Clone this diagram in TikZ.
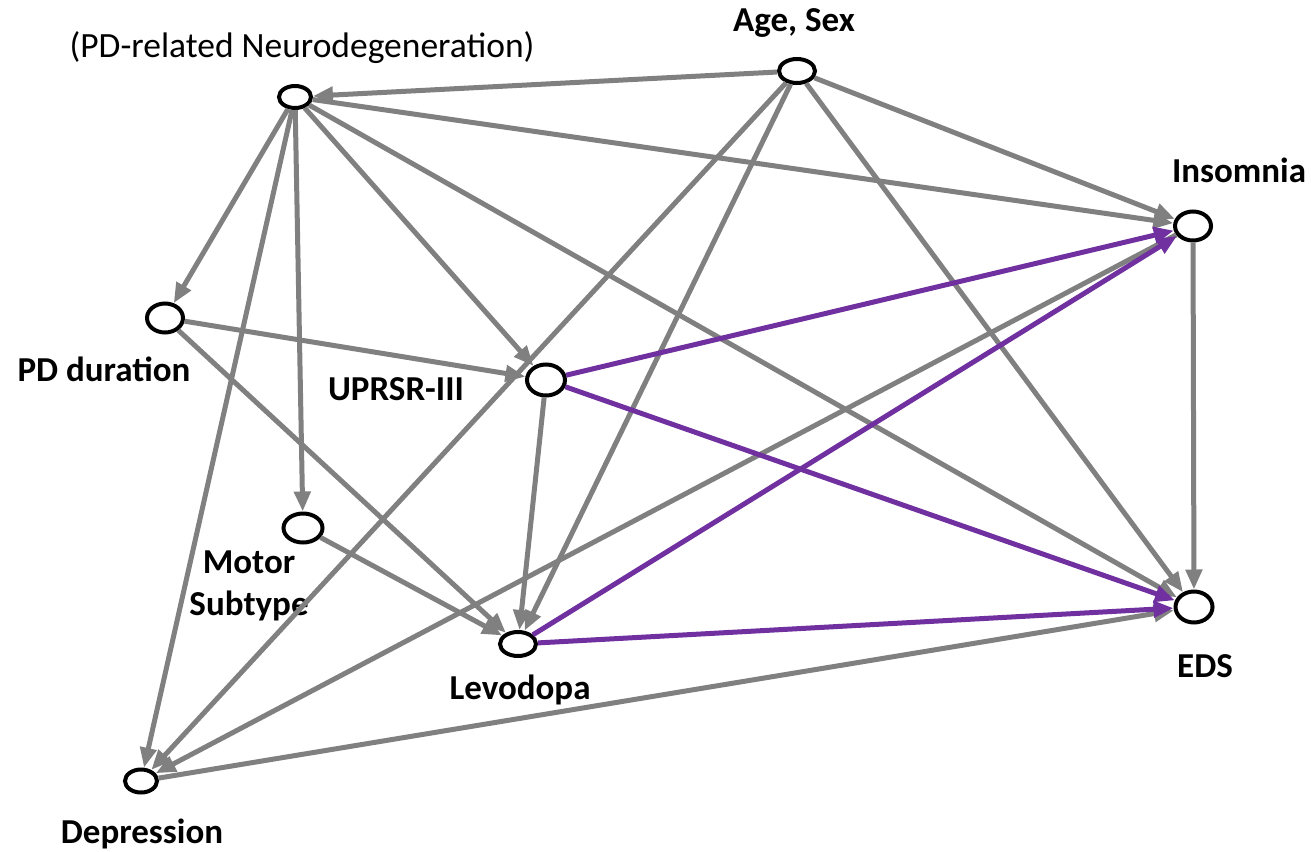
\documentclass[tikz,border=0pt]{standalone}
\usepackage{fontspec}
\setmainfont{Carlito}
\usetikzlibrary{shapes.geometric,arrows.meta}
\definecolor{edgegray}{RGB}{128,128,128}
\definecolor{edgepurple}{RGB}{112,48,160}
\begin{document}
\begin{tikzpicture}[x=1pt,y=-1pt,
  var/.style={draw=black,line width=4pt,ellipse,inner sep=0pt},
  lbl/.style={font=\fontsize{35}{40}\selectfont\bfseries,anchor=base,inner sep=0pt},
  ge/.style={draw=edgegray,line width=5pt,-{Triangle[length=20pt,width=16pt]}},
  pe/.style={draw=edgepurple,line width=5pt,-{Triangle[length=20pt,width=16pt]}}]
\useasboundingbox (0,0) rectangle (1311,851);
% variables
\node[var,minimum width=32pt,minimum height=22pt] (N) at (295,97) {};
\node[var,minimum width=36pt,minimum height=24pt] (A) at (797,71) {};
\node[var,minimum width=36pt,minimum height=29pt] (I) at (1193,226) {};
\node[var,minimum width=37pt,minimum height=31pt] (E) at (1194,607) {};
\node[var,minimum width=36pt,minimum height=29pt] (P) at (165,318) {};
\node[var,minimum width=38pt,minimum height=31pt] (U) at (546,380) {};
\node[var,minimum width=39pt,minimum height=29pt] (M) at (303,528) {};
\node[var,minimum width=36pt,minimum height=24pt] (L) at (518,644) {};
\node[var,minimum width=32pt,minimum height=23pt] (D) at (141,781) {};
% labels
\node[anchor=base,inner sep=0pt,font=\fontsize{35.5}{40}\selectfont] (tN) at (302,58) {(PD-related Neurodegeneration)};
\node[lbl] (tA) at (794,32) {Age, Sex};
\node[lbl] (tI) at (1239,182) {Insomnia};
\node[lbl] (tE) at (1205,677) {EDS};
\node[lbl] (tP) at (104,381) {PD duration};
\node[lbl] (tU) at (396,400) {UPRSR-III};
\node[lbl] (tM) at (249,573) {Motor};
\node[lbl] (tS) at (249,615) {Subtype};
\node[lbl] (tL) at (520,699) {Levodopa};
\node[lbl] (tD) at (142,843) {Depression};
% gray edges
\draw[ge] (A) -- (N);
\draw[ge] (N) -- (I);
\draw[ge] (N) -- (P);
\draw[ge] (N) -- (M);
\draw[ge] (N) -- (U);
\draw[ge] (N) -- (E);
\draw[ge] (N) -- (D);
\draw[ge] (A) -- (I);
\draw[ge] (A) -- (D);
\draw[ge] (A) -- (L);
\draw[ge] (A) -- (E);
\draw[ge] (P) -- (U);
\draw[ge] (P) -- (L);
\draw[ge] (M) -- (L);
\draw[ge] (U) -- (L);
\draw[ge] (I) -- (E);
\draw[ge] (I) -- (D);
\draw[ge] (D) -- (E);
% purple edges
\draw[pe] (U) -- (I);
\draw[pe] (U) -- (E);
\draw[pe] (L) -- (I);
\draw[pe] (L) -- (E);
\end{tikzpicture}
\end{document}
